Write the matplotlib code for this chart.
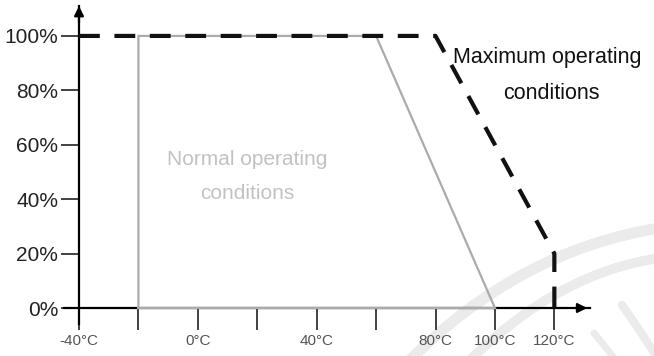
import matplotlib
matplotlib.use("Agg")
import matplotlib.pyplot as plt
from matplotlib.path import Path
from matplotlib.patches import PathPatch

# Temperature (°C) vs. allowed load (%)
temp_ticks = [-40, -20, 0, 20, 40, 60, 80, 100, 120]
temp_labels = ["-40°C", "", "0°C", "", "40°C", "", "80°C", "100°C", "120°C"]
pct_ticks = [0, 20, 40, 60, 80, 100]
pct_labels = ["0%", "20%", "40%", "60%", "80%", "100%"]

# Normal operating envelope
normal_temp = [-20, -20, 60, 100, -20]
normal_pct = [0, 100, 100, 0, 0]

# Maximum operating envelope
max_temp = [-40, 80, 120, 120]
max_pct = [100, 100, 20, 0]

plt.rcParams["font.family"] = ["Liberation Sans", "DejaVu Sans"]

W, H = 654, 356
fig = plt.figure(figsize=(W / 100, H / 100), dpi=100)


def px(x, y):
    """Pixel position (from top-left) to figure fraction."""
    return (x / W, (H - y) / H)


# Faint background swooshes
for pts, lw in [([(410, 360), (520, 250), (660, 228)], 8),
                ([(470, 360), (560, 272), (660, 258)], 7),
                ([(622, 305), (640, 330), (656, 356)], 6),
                ([(594, 333), (604, 345), (614, 358)], 5)]:
    path = Path([px(*p) for p in pts], [Path.MOVETO, Path.CURVE3, Path.CURVE3])
    fig.add_artist(PathPatch(path, transform=fig.transFigure, fill=False,
                             edgecolor="#ebebeb", lw=lw, zorder=0,
                             capstyle="round"))

left, right, bottom, top = 79, 590, 48, 6
ax = fig.add_axes([left / W, bottom / H, (right - left) / W, (H - bottom - top) / H])
ax.patch.set_alpha(0)

ax.set_xlim(-40, 132)
ax.set_ylim(0, 111)

for s in ["top", "right"]:
    ax.spines[s].set_visible(False)
ax.spines["left"].set_linewidth(1.6)
ax.spines["bottom"].set_linewidth(1.6)
ax.spines["left"].set_bounds(-6, 111)
ax.spines["bottom"].set_bounds(-45, 132)

ax.set_xticks(temp_ticks)
ax.set_xticklabels(temp_labels, fontsize=11, color="#555555")
ax.set_yticks(pct_ticks)
ax.set_yticklabels(pct_labels, fontsize=15, color="#222222")
ax.tick_params(axis="x", length=16, width=1.3, direction="out", pad=3, color="#333333")
ax.tick_params(axis="y", length=13, width=1.3, direction="out", pad=2, color="#333333")

# Axis arrow heads
ax.annotate("", xy=(-40, 112), xytext=(-40, 104),
            arrowprops=dict(arrowstyle="-|>", color="black", lw=1.6, mutation_scale=14),
            annotation_clip=False)
ax.annotate("", xy=(132, 0), xytext=(126, 0),
            arrowprops=dict(arrowstyle="-|>", color="black", lw=1.6, mutation_scale=14),
            annotation_clip=False)

ax.plot(normal_temp, normal_pct, color="#ababab", lw=1.6, zorder=3,
        solid_joinstyle="miter", clip_on=False)
ax.plot(max_temp, max_pct, color="#111111", lw=3.0, zorder=4,
        dashes=(5, 3.5), clip_on=False)

ax.text(16.5, 54.5, "Normal operating", ha="center", va="center",
        fontsize=15, color="#c2c2c2")
ax.text(16.5, 42, "conditions", ha="center", va="center",
        fontsize=15, color="#c2c2c2")
ax.text(117.5, 92, "Maximum operating", ha="center", va="center",
        fontsize=15.5, color="#111111", clip_on=False)
ax.text(119, 79, "conditions", ha="center", va="center",
        fontsize=15.5, color="#111111", clip_on=False)

fig.savefig("out.png", dpi=100)
